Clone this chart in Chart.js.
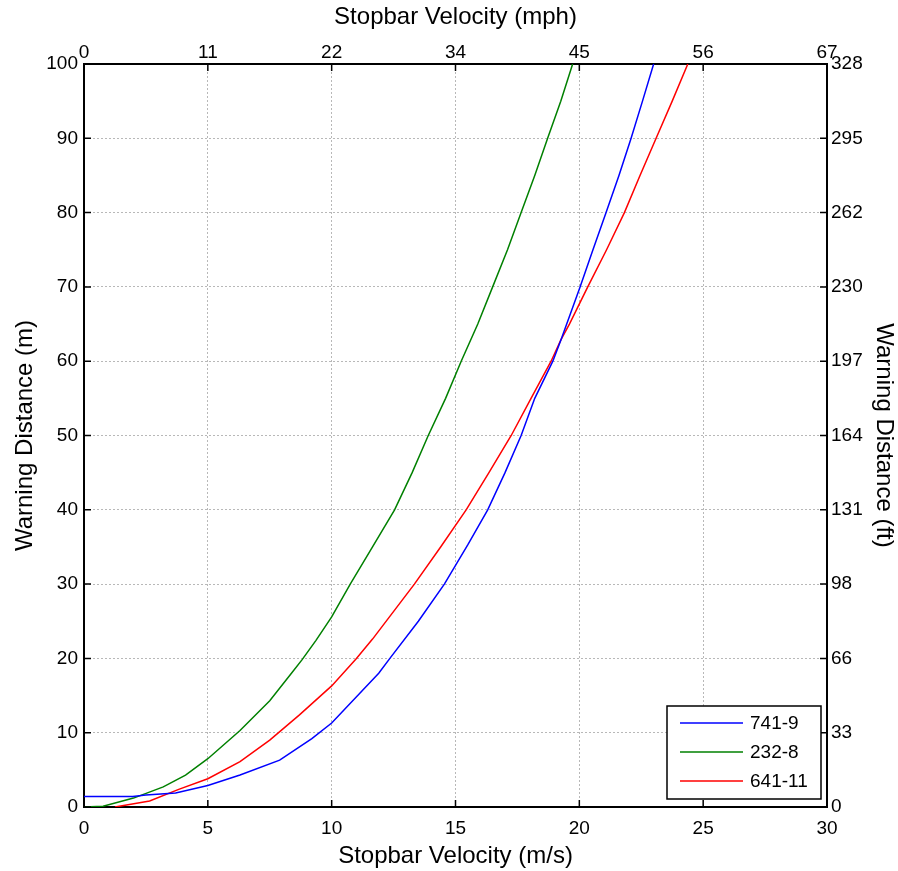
<!DOCTYPE html>
<html>
<head>
<meta charset="utf-8">
<title>Warning distance vs stopbar velocity</title>
<script src="https://cdn.jsdelivr.net/npm/chart.js@4.4.1/dist/chart.umd.min.js"></script>
<style>
  html, body { margin: 0; padding: 0; background: #fff; }
  #wrap { width: 898px; height: 871px; }
</style>
</head>
<body>
<div id="wrap"><canvas id="chart" width="898" height="871"></canvas></div>
<script>
// series 741-9
const speed741 = [0, 1.97, 2.5, 3.7, 5, 6.3, 7.9, 9.2, 10, 11.9, 12.35, 13.5, 14.55, 15.5, 16.3, 17.0, 17.65, 18.2, 18.93, 19.26, 20.03, 20.55, 21.08, 21.6, 22.09, 22.55, 23.0];
const dist741  = [1.4, 1.4, 1.6, 1.9, 2.9, 4.3, 6.3, 9.2, 11.3, 18, 20, 25, 30, 35.3, 40, 45, 50, 55, 60, 62.9, 70, 75, 80, 85, 90, 95, 100];

// series 232-8
const speed232 = [0, 0.77, 2.0, 3.2, 4.1, 5, 6.3, 7.5, 8.4, 8.8, 9.36, 10, 10.75, 11.65, 12.54, 13.25, 13.9, 14.6, 15.23, 15.9, 16.5, 17.1, 17.65, 18.2, 18.72, 19.25, 19.73];
const dist232  = [0, 0.1, 1.2, 2.7, 4.3, 6.5, 10.3, 14.3, 18.1, 19.8, 22.4, 25.6, 30, 35, 40, 45, 50, 55, 60, 65, 70, 75, 80, 85, 90, 95, 100];

// series 641-11
const speed641 = [1.25, 2.65, 3.85, 5, 6.3, 7.5, 8.7, 10, 11, 11.65, 13.34, 14.4, 15.43, 16.35, 17.25, 18.05, 18.86, 19.26, 19.6, 20.34, 21.1, 21.82, 22.45, 23.1, 23.75, 24.38];
const dist641  = [0, 0.8, 2.4, 3.8, 6.1, 9.0, 12.4, 16.3, 20.0, 22.6, 30, 35, 40, 45, 50, 55, 60, 62.9, 65, 70, 75, 80, 85, 90, 95, 100];

// secondary axis labels
const mphLabels = ['0', '11', '22', '34', '45', '56', '67'];
const ftLabels = ['0', '33', '66', '98', '131', '164', '197', '230', '262', '295', '328'];

const FONT = 'Liberation Sans, Arial, Helvetica, sans-serif';

function pts(xs, ys) {
    return xs.map((x, i) => ({x: x, y: ys[i]}));
}

// MATLAB style inward ticks + legend box in the lower right
const matlabBits = {
    id: 'matlabBits',
    afterDraw(chart) {
        const ctx = chart.ctx;
        const a = chart.chartArea;
        const len = 7;
        ctx.save();
        ctx.strokeStyle = '#000';
        ctx.lineWidth = 1.5;
        ctx.beginPath();
        chart.scales.x.ticks.forEach(t => {
            const px = chart.scales.x.getPixelForValue(t.value);
            ctx.moveTo(px, a.bottom); ctx.lineTo(px, a.bottom - len);
            ctx.moveTo(px, a.top); ctx.lineTo(px, a.top + len);
        });
        chart.scales.y.ticks.forEach(t => {
            const py = chart.scales.y.getPixelForValue(t.value);
            ctx.moveTo(a.left, py); ctx.lineTo(a.left + len, py);
            ctx.moveTo(a.right, py); ctx.lineTo(a.right - len, py);
        });
        ctx.stroke();

        // legend
        const w = 154, h = 93;
        const bx = a.right - 6 - w, by = a.bottom - 8 - h;
        ctx.fillStyle = '#fff';
        ctx.fillRect(bx, by, w, h);
        ctx.lineWidth = 1.5;
        ctx.strokeRect(bx, by, w, h);
        ctx.font = '19px ' + FONT;
        ctx.textBaseline = 'middle';
        ctx.textAlign = 'left';
        chart.data.datasets.forEach((ds, i) => {
            const yy = by + 17 + i * 29;
            ctx.strokeStyle = ds.borderColor;
            ctx.lineWidth = 1.5;
            ctx.beginPath();
            ctx.moveTo(bx + 13, yy); ctx.lineTo(bx + 76, yy);
            ctx.stroke();
            ctx.fillStyle = '#000';
            ctx.fillText(ds.label, bx + 83, yy + 1);
        });
        ctx.restore();
    }
};

function renderChart() {
    const ctx = document.getElementById('chart').getContext('2d');
    const tickFont = {family: FONT, size: 19};
    const titleFont = {family: FONT, size: 24};
    const gridOpts = {color: '#b8b8b8', lineWidth: 1, drawTicks: false};
    const borderOpts = {display: true, color: '#000', width: 2, dash: [2, 2]};

    new Chart(ctx, {
        type: 'scatter',
        data: {
            datasets: [
                {label: '741-9', data: pts(speed741, dist741), borderColor: '#0000ff'},
                {label: '232-8', data: pts(speed232, dist232), borderColor: '#008000'},
                {label: '641-11', data: pts(speed641, dist641), borderColor: '#ff0000'}
            ].map(d => Object.assign(d, {
                showLine: true, pointRadius: 0, borderWidth: 1.5, tension: 0, fill: false
            }))
        },
        options: {
            responsive: false,
            animation: false,
            layout: {padding: 0},
            plugins: {
                legend: {display: false},
                tooltip: {enabled: false}
            },
            scales: {
                x: {
                    type: 'linear', position: 'bottom', min: 0, max: 30,
                    ticks: {stepSize: 5, font: tickFont, color: '#000', padding: 10, autoSkip: false, maxRotation: 0},
                    grid: gridOpts,
                    border: borderOpts,
                    title: {display: true, text: 'Stopbar Velocity (m/s)', font: titleFont, color: '#000', padding: {top: 0, bottom: 0}},
                    afterFit: s => { s.height = 64; }
                },
                x2: {
                    type: 'linear', position: 'top', min: 0, max: 30,
                    ticks: {stepSize: 5, font: tickFont, color: '#000', padding: 0, autoSkip: false, maxRotation: 0,
                            callback: (v, i) => mphLabels[i]},
                    grid: {display: false, drawTicks: false},
                    border: {display: true, color: '#000', width: 2},
                    title: {display: true, text: 'Stopbar Velocity (mph)', font: titleFont, color: '#000', padding: {top: 3, bottom: 0}},
                    afterFit: s => { s.height = 64; }
                },
                y: {
                    type: 'linear', position: 'left', min: 0, max: 100,
                    ticks: {stepSize: 10, font: tickFont, color: '#000', padding: 6, autoSkip: false},
                    grid: gridOpts,
                    border: borderOpts,
                    title: {display: true, text: 'Warning Distance (m)', font: titleFont, color: '#000', padding: {top: 11, bottom: 0}},
                    afterFit: s => { s.width = 84; }
                },
                y2: {
                    type: 'linear', position: 'right', min: 0, max: 100,
                    ticks: {stepSize: 10, font: tickFont, color: '#000', padding: 4, autoSkip: false,
                            callback: (v, i) => ftLabels[i]},
                    grid: {display: false, drawTicks: false},
                    border: {display: true, color: '#000', width: 2},
                    title: {display: true, text: 'Warning Distance (ft)', font: titleFont, color: '#000', padding: {top: 0, bottom: 0}},
                    afterFit: s => { s.width = 71; }
                }
            }
        },
        plugins: [matlabBits]
    });
}

renderChart();
</script>
</body>
</html>
